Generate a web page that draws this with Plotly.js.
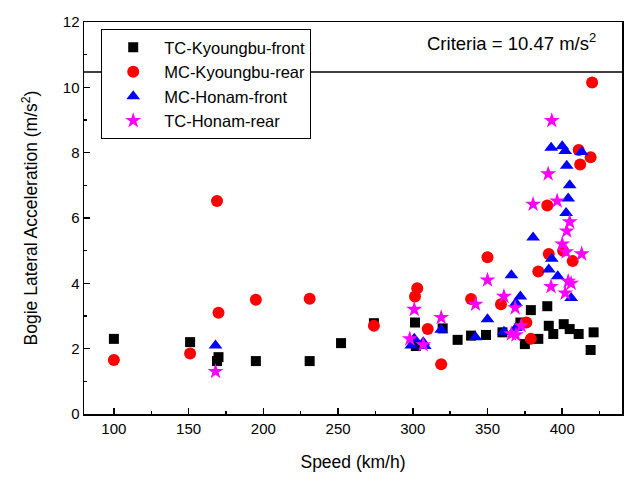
<!DOCTYPE html>
<html>
<head>
<meta charset="utf-8">
<script src="https://cdn.plot.ly/plotly-3.0.1.min.js"></script>
<style>html,body{margin:0;padding:0;background:#fff;}#chart{width:642px;height:484px;}</style>
</head>
<body>
<div id="chart"></div>
<script>
// TC-Kyoungbu-front (black squares)
const tcKbSpeed = [100, 151, 169, 170, 195, 231, 252, 274, 301.5, 302, 320, 330, 339, 349, 360, 372, 375, 379, 384, 390, 391, 394, 401, 405, 411, 421, 419];
const tcKbAcc   = [2.3, 2.2, 1.62, 1.74, 1.62, 1.62, 2.17, 2.78, 2.8, 2.08, 2.62, 2.27, 2.4, 2.42, 2.5, 2.8, 2.14, 3.18, 2.3, 3.3, 2.7, 2.45, 2.75, 2.6, 2.45, 2.5, 1.96];

// MC-Kyoungbu-rear (red circles)
const mcKbSpeed = [100, 151, 169, 170, 195, 231, 274, 301.5, 303, 310, 319, 339, 350, 359, 376, 379, 384, 390, 391, 400.6, 407, 411, 412, 419, 420];
const mcKbAcc   = [1.65, 1.85, 6.52, 3.1, 3.5, 3.53, 2.7, 3.6, 3.85, 2.6, 1.52, 3.52, 4.8, 3.36, 2.8, 2.3, 4.36, 6.38, 4.9, 5.0, 4.68, 8.08, 7.64, 7.86, 10.15];

// MC-Honam-front (blue triangles)
const mcHnSpeed = [168, 299, 301, 307, 308, 319, 342, 350, 361, 366, 369, 369, 372, 380.5, 391, 393, 397, 392.6, 400, 402, 413, 403, 405, 404, 402.6, 406];
const mcHnAcc   = [2.1, 2.1, 2.3, 2.2, 2.08, 2.58, 2.35, 2.9, 2.52, 4.25, 2.63, 3.4, 3.6, 5.4, 4.42, 4.75, 4.22, 8.15, 8.2, 8.05, 8.02, 7.6, 7.0, 6.6, 6.15, 3.55];

// TC-Honam-rear (magenta stars)
const tcHnSpeed = [168, 298, 301, 307, 319, 342, 350, 361, 366, 368.5, 369, 372.5, 380.5, 390.6, 393, 392.5, 396.6, 400, 402, 402.6, 403, 404, 405, 406, 413];
const tcHnAcc   = [1.3, 2.3, 3.2, 2.12, 2.95, 3.36, 4.1, 3.6, 2.45, 3.25, 2.42, 2.7, 6.42, 7.35, 8.98, 3.9, 6.52, 5.2, 3.7, 4.96, 5.6, 4.06, 5.88, 4.0, 4.9];

const criteria = 10.47;
const seriesNames = ["TC-Kyoungbu-front", "MC-Kyoungbu-rear", "MC-Honam-front", "TC-Honam-rear"];

const font = "Arial, 'Liberation Sans', sans-serif";

const traces = [
  {x: tcKbSpeed, y: tcKbAcc, name: seriesNames[0], type: "scatter", mode: "markers",
   marker: {symbol: "square", size: 10, color: "#000000"}},
  {x: mcKbSpeed, y: mcKbAcc, name: seriesNames[1], type: "scatter", mode: "markers",
   marker: {symbol: "circle", size: 12, color: "#ff0000"}},
  {x: mcHnSpeed, y: mcHnAcc, name: seriesNames[2], type: "scatter", mode: "markers",
   marker: {symbol: "triangle-up", size: 12, color: "#0000ff"}},
  {x: tcHnSpeed, y: tcHnAcc, name: seriesNames[3], type: "scatter", mode: "markers",
   marker: {symbol: "star", size: 12, color: "#ff00ff"}}
];

const layout = {
  width: 642, height: 484,
  margin: {l: 84, r: 20, t: 22, b: 70},
  paper_bgcolor: "#ffffff", plot_bgcolor: "#ffffff",
  font: {family: font, size: 15, color: "#000"},
  showlegend: true,
  legend: {
    x: 0.032, y: 0.982, xanchor: "left", yanchor: "top",
    bordercolor: "#000", borderwidth: 1, bgcolor: "#fff",
    font: {family: font, size: 16.5, color: "#000"},
    itemwidth: 52, tracegroupgap: 0
  },
  xaxis: {
    range: [80, 440], dtick: 50, tick0: 0,
    showgrid: false, zeroline: false,
    showline: true, linecolor: "#000", linewidth: 1.5, mirror: true,
    ticks: "inside", ticklen: 6, tickwidth: 1.5, tickcolor: "#000",
    minor: {ticks: "inside", ticklen: 3, tickwidth: 1.5, dtick: 25, tickcolor: "#000", showgrid: false},
    tickfont: {family: font, size: 15},
    title: {text: "Speed (km/h)", font: {family: font, size: 17.5}, standoff: 20}
  },
  yaxis: {
    range: [0, 12], dtick: 2, tick0: 0,
    showgrid: false, zeroline: false,
    showline: true, linecolor: "#000", linewidth: 1.5, mirror: true,
    ticks: "inside", ticklen: 6, tickwidth: 1.5, tickcolor: "#000",
    minor: {ticks: "inside", ticklen: 3, tickwidth: 1.5, dtick: 1, tickcolor: "#000", showgrid: false},
    tickfont: {family: font, size: 15},
    title: {text: "Bogie Lateral Acceleration (m/s<sup>2</sup>)", font: {family: font, size: 17.5}, standoff: 20}
  },
  shapes: [
    {type: "line", xref: "paper", x0: 0, x1: 1, yref: "y", y0: criteria, y1: criteria,
     line: {color: "#000", width: 1.5}}
  ],
  annotations: [
    {xref: "paper", x: 0.955, xanchor: "right", yref: "y", y: 11.39, yanchor: "middle",
     text: "Criteria = " + criteria + " m/s<sup>2</sup>", showarrow: false,
     font: {family: font, size: 18.5, color: "#000"}}
  ]
};

Plotly.newPlot("chart", traces, layout, {displayModeBar: false, staticPlot: true});
</script>
</body>
</html>
